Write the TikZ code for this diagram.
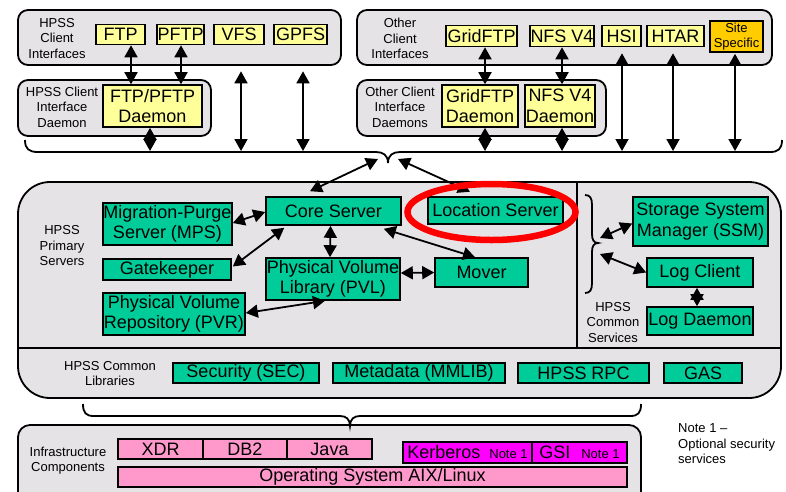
\documentclass[tikz,border=0pt]{standalone}
\usepackage{fontspec}
\setmainfont{Liberation Sans}
\usetikzlibrary{arrows.meta,calc}
\definecolor{grpgray}{HTML}{E5E3E5}
\definecolor{cyel}{HTML}{FFFF99}
\definecolor{cgreen}{HTML}{00CC99}
\definecolor{cpink}{HTML}{FF99CC}
\definecolor{cmag}{HTML}{FF00FF}
\definecolor{corange}{HTML}{FFCC00}
\definecolor{cred}{HTML}{FF0000}
\begin{document}
\begin{tikzpicture}[x=1pt,y=-1pt,
 grp/.style={draw, line width=1.8pt, fill=grpgray, rounded corners=10pt, inner sep=0pt},
 bx/.style={draw, line width=1.6pt, inner sep=0pt, align=center, font=\fontsize{18}{20.5}\selectfont},
 ybx/.style={bx, fill=cyel},
 gbx/.style={bx, fill=cgreen},
 pbx/.style={bx, fill=cpink},
 mbx/.style={bx, fill=cmag},
 sz/.style 2 args={minimum width=#1pt, minimum height=#2pt},
 lbl/.style={align=center, inner sep=0pt, font=\fontsize{13}{15.5}\selectfont},
 dbl/.style={{Triangle[length=12pt,width=13pt]}-{Triangle[length=12pt,width=13pt]}, line width=1.8pt},
 brc/.style={line width=1.8pt}
]
\useasboundingbox (0,0) rectangle (786,491);
\clip (0,0) rectangle (786,491);

% ---------- group boxes ----------
\node[grp, sz={323}{55}] (cigrp) at (179.5,37.5) {};
\node[grp, sz={193}{56}] (cidgrp) at (114.5,108) {};
\node[grp, sz={415}{55}] (ocigrp) at (564.5,37.5) {};
\node[grp, sz={249}{56}] (ocidgrp) at (481.5,108) {};
\draw[line width=1.8pt, fill=grpgray, rounded corners=32pt] (18,182) rectangle (781,398);
\draw[line width=1.8pt] (18,348) -- (781,348);
\draw[line width=1.8pt] (577,182) -- (577,348);
\node[grp, rounded corners=12pt, sz={623}{90}] (infgrp) at (329.5,470) {};

% ---------- labels ----------
\node[lbl] (l1) at (57,38.5) {HPSS\\Client\\Interfaces};
\node[lbl] (l2) at (62,107) {HPSS Client\\Interface\\Daemon};
\node[lbl] (l3) at (400,38.5) {Other\\Client\\Interfaces};
\node[lbl] (l4) at (400,107) {Other Client\\Interface\\Daemons};
\node[lbl] (l5) at (62,246) {HPSS\\Primary\\Servers};
\node[lbl] (l6) at (613,322.5) {HPSS\\Common\\Services};
\node[lbl] (l7) at (110,373.5) {HPSS Common\\Libraries};
\node[lbl] (l8) at (68,460.5) {Infrastructure\\Components};
\node[lbl, align=left, anchor=west] (note) at (678,444) {Note 1 --\\Optional security\\services};

% ---------- client boxes ----------
\node[ybx, sz={49}{20}] (ftp) at (120.5,34.5) {FTP};
\node[ybx, sz={47}{20}] (pftp) at (180.5,34.5) {PFTP};
\node[ybx, sz={50}{20}] (vfs) at (239,34.5) {VFS};
\node[ybx, sz={53}{20}] (gpfs) at (300.5,34.5) {GPFS};
\node[ybx, sz={99}{42}] (ftpd) at (152.5,106) {FTP/PFTP\\Daemon};

\node[ybx, sz={71}{21}] (gftp) at (481.5,36) {GridFTP};
\node[ybx, sz={64}{21}] (nfs) at (562,36) {NFS V4};
\node[ybx, sz={39}{21}] (hsi) at (621.5,36) {HSI};
\node[ybx, sz={57}{21}] (htar) at (675.5,36) {HTAR};
\node[bx, fill=corange, sz={53}{31}, font=\fontsize{13}{15}\selectfont] (site) at (736.5,36.5) {Site\\Specific};
\node[ybx, sz={76}{42}] (gftpd) at (480,106) {GridFTP\\Daemon};
\node[ybx, sz={70}{42}] (nfsd) at (560,106) {NFS V4\\Daemon};

% ---------- bus brace ----------
\coordinate (bus) at (0,151);
\coordinate (cuspA) at (378,159);
\coordinate (cuspB) at (398,159);
\draw[brc] (25,140) .. controls (25,149) and (29,152) .. (38,152) -- (376,152)
  .. controls (383,152) and (388,155) .. (388,163)
  .. controls (388,155) and (393,152) .. (400,152) -- (770,152)
  .. controls (778,152) and (782,149) .. (782,140);

% ---------- client arrows ----------
\draw[dbl] ($(ftp.south)+(10.5,0)$) -- ($(ftpd.north)+(-21.5,0)$);
\draw[dbl] ($(pftp.south)+(0.5,0)$) -- ($(ftpd.north)+(28.5,0)$);
\draw[dbl] ($(vfs.south)+(2,26)$) -- ($(vfs.south |- bus)+(2,0)$);
\draw[dbl] ($(gpfs.south)+(2.5,26)$) -- ($(gpfs.south |- bus)+(2.5,0)$);
\draw[dbl] ($(ftpd.south)+(-2.5,0)$) -- ($(ftpd.south |- bus)+(-2.5,0)$);
\draw[dbl] ($(gftp.south)+(3.5,0)$) -- ($(gftpd.north)+(5,0)$);
\draw[dbl] (nfs.south) -- ($(nfsd.north)+(2,0)$);
\draw[dbl] ($(gftpd.south)+(5,0)$) -- ($(gftpd.south |- bus)+(5,0)$);
\draw[dbl] ($(nfsd.south)+(2,0)$) -- ($(nfsd.south |- bus)+(2,0)$);
\draw[dbl] ($(hsi.south)+(0.5,6)$) -- ($(hsi.south |- bus)+(0.5,0)$);
\draw[dbl] ($(htar.south)+(-2.5,6)$) -- ($(htar.south |- bus)+(-2.5,0)$);
\draw[dbl] ($(site.south)+(-1.5,1)$) -- ($(site.south |- bus)+(-1.5,0)$);

% ---------- primary servers ----------
\node[gbx, sz={135}{28}] (core) at (333.5,211) {Core Server};
\node[gbx, sz={135}{27}] (loc) at (495.5,210.5) {Location Server};
\node[gbx, sz={129}{42}] (mps) at (167.5,224) {Migration-Purge\\Server (MPS)};
\node[gbx, sz={128}{21}] (gate) at (167,269.5) {Gatekeeper};
\node[gbx, sz={142}{42}] (pvr) at (174,314) {Physical Volume\\Repository (PVR)};
\node[gbx, sz={134}{42}] (pvl) at (333,279) {Physical Volume\\Library (PVL)};
\node[gbx, sz={93}{29}] (mover) at (481.5,272.5) {Mover};

\draw[dbl] (cuspA) -- ($(core.north)+(-23.5,-5)$);
\draw[dbl] (cuspB) -- ($(loc.north)+(-25.5,-4.5)$);
\draw[dbl] ($(mps.east)+(0,-1)$) -- ($(core.west)+(0,1)$);
\draw[dbl] ($(core.south west)+(19,2)$) -- ($(gate.east)+(1,-3)$);
\draw[dbl] ($(core.south)+(-3,0)$) -- ($(pvl.north)+(-3,0)$);
\draw[dbl] ($(core.south east)+(-18,3)$) -- ($(mover.north)+(-6.5,0)$);
\draw[dbl] ($(pvl.east)+(0,-6)$) -- (mover.west);
\draw[dbl] ($(pvr.east)+(0,-1)$) -- ($(pvl.south)+(-8,0)$);

% ---------- common services ----------
\node[gbx, sz={135}{49}] (ssm) at (700.5,221.5) {Storage System\\Manager (SSM)};
\node[gbx, sz={106}{29}] (logc) at (700,272.5) {Log Client};
\node[gbx, sz={106}{28}] (logd) at (700,321) {Log Daemon};
\coordinate (sbrA) at (600,238);
\coordinate (sbrB) at (600,254);
\draw[brc] (585,195) .. controls (590,195) and (592,198) .. (592,205) -- (592,234)
  .. controls (592,240) and (594,243) .. (598,243)
  .. controls (594,243) and (592,246) .. (592,252) -- (592,283)
  .. controls (592,290) and (590,293) .. (585,293);
\draw[dbl] (sbrA) -- ($(ssm.west)+(0,2)$);
\draw[dbl] (sbrB) -- (logc.west);
\draw[dbl] ($(logc.south)+(-3,0)$) -- ($(logd.north)+(-3,0)$);

% ---------- libraries ----------
\node[gbx, sz={146}{20}] (sec) at (246,373) {Security (SEC)};
\node[gbx, sz={172}{20}] (meta) at (419,373) {Metadata (MMLIB)};
\node[gbx, sz={131}{20}] (rpc) at (583.5,373) {HPSS RPC};
\node[gbx, sz={78}{20}] (gas) at (703,373) {GAS};

\draw[brc] (83,404) .. controls (83,413) and (86,416) .. (94,416) -- (340,416)
  .. controls (346,416) and (350,419) .. (350,426)
  .. controls (350,419) and (354,416) .. (360,416) -- (630,416)
  .. controls (638,416) and (641,413) .. (641,404);

% ---------- infrastructure ----------
\node[pbx, sz={85}{20}] (xdr) at (160.5,449) {XDR};
\node[pbx, sz={84}{20}] (db2) at (245,449) {DB2};
\node[pbx, sz={85}{20}] (java) at (329.5,449) {Java};
\node[mbx, sz={129}{21}] (kerb) at (467.5,452.5) {Kerberos\hspace{9pt}{\fontsize{13}{15}\selectfont Note 1}};
\node[mbx, sz={95}{21}] (gsi) at (579.5,452.5) {GSI\hspace{11pt}{\fontsize{13}{15}\selectfont Note 1}};
\node[pbx, sz={509}{20}] (os) at (372.5,477) {Operating System AIX/Linux};

% ---------- highlight ----------
\draw[cred, line width=6.5pt] (loc.center) ++(-4,1.5) ellipse [x radius=84, y radius=28];
\end{tikzpicture}
\end{document}
